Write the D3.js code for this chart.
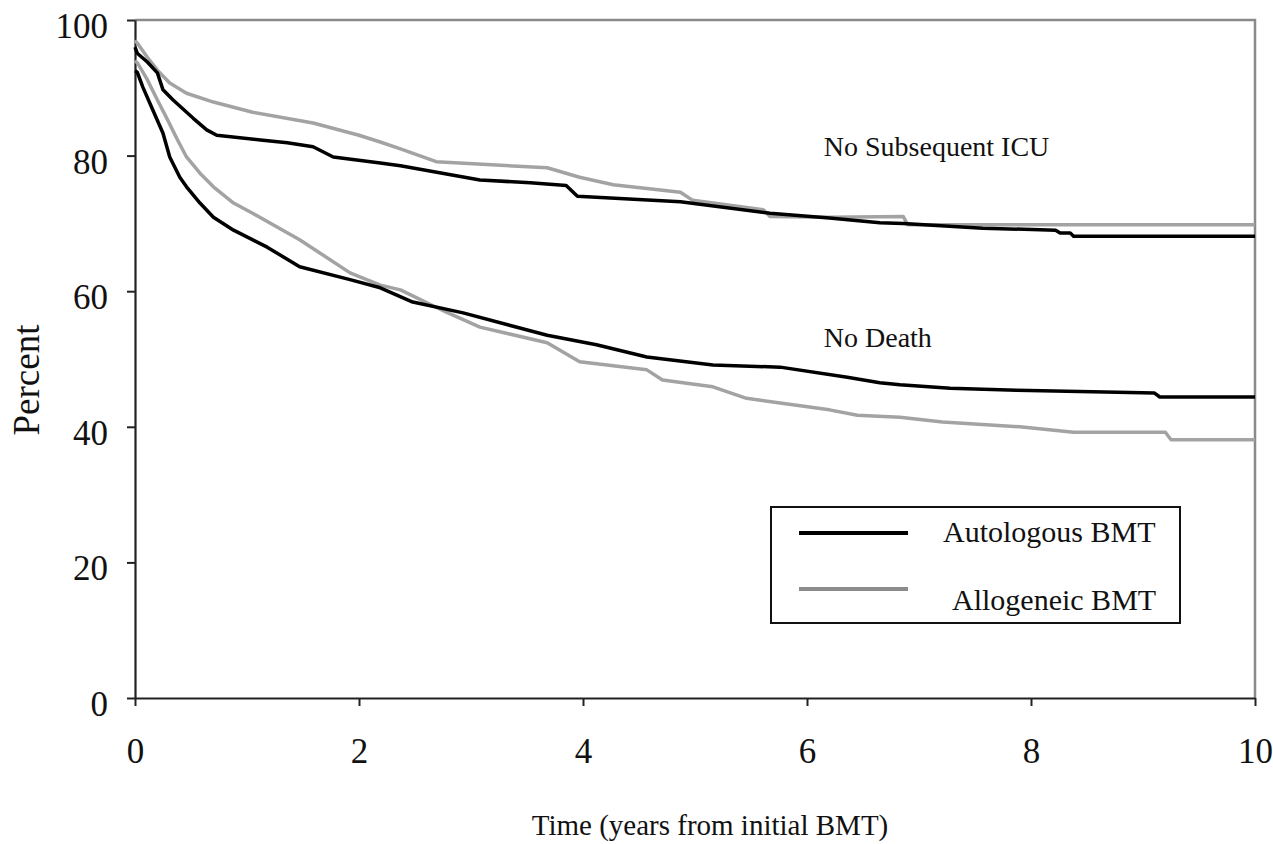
<!DOCTYPE html>
<html>
<head>
<meta charset="utf-8">
<script src="https://cdn.jsdelivr.net/npm/d3@7"></script>
<style>
  body { margin: 0; background: #fff; }
  text { font-family: "Liberation Serif", "Times New Roman", serif; fill: #111; }
</style>
</head>
<body>
<svg id="chart" width="1273" height="844"></svg>
<script>
// values: [years, percent]
const autoIcu = [[0,96],[0.02,95.1],[0.11,93.8],[0.2,92.2],[0.25,89.7],[0.34,88.2],[0.52,85.5],[0.64,83.8],[0.73,83.0],[1.12,82.3],[1.36,81.9],[1.59,81.3],[1.77,79.8],[2.19,78.9],[2.37,78.5],[3.08,76.4],[3.53,76.0],[3.85,75.6],[3.95,74.0],[4.87,73.2],[5.67,71.5],[6.2,70.8],[6.65,70.1],[6.86,70.0],[7.57,69.3],[8.22,69.0],[8.26,68.6],[8.35,68.6],[8.38,68.1],[10,68.1]];
const alloIcu = [[0,97],[0.02,96.6],[0.11,94.5],[0.2,92.6],[0.31,90.7],[0.46,89.2],[0.7,87.9],[1.05,86.4],[1.59,84.8],[2.0,83.0],[2.19,82.0],[2.37,81.0],[2.69,79.1],[3.68,78.2],[3.97,76.8],[4.27,75.7],[4.87,74.6],[4.98,73.4],[5.61,72.0],[5.67,71.0],[6.2,70.9],[6.86,71.0],[6.9,69.8],[10,69.8]];
const autoDeath = [[0,92.5],[0.02,92.3],[0.07,90.1],[0.16,86.7],[0.25,83.3],[0.31,79.8],[0.4,76.8],[0.46,75.4],[0.58,73.0],[0.7,70.9],[0.88,69.0],[1.18,66.5],[1.47,63.6],[1.92,61.7],[2.19,60.5],[2.48,58.4],[2.93,56.8],[3.68,53.5],[4.12,52.1],[4.57,50.3],[5.16,49.1],[5.76,48.8],[6.36,47.3],[6.65,46.5],[6.83,46.2],[7.28,45.7],[7.87,45.4],[8.77,45.1],[9.1,45.0],[9.15,44.4],[10,44.4]];
const alloDeath = [[0,94],[0.02,93.7],[0.11,91.2],[0.2,88.2],[0.29,85.3],[0.38,82.3],[0.46,79.8],[0.58,77.4],[0.7,75.4],[0.88,73.0],[1.05,71.5],[1.47,67.6],[1.92,62.7],[2.19,60.9],[2.37,60.2],[2.78,56.9],[3.08,54.7],[3.68,52.4],[3.97,49.6],[4.57,48.4],[4.71,46.9],[5.16,45.9],[5.46,44.2],[5.76,43.5],[6.2,42.5],[6.45,41.7],[6.83,41.4],[7.21,40.7],[7.9,40.0],[8.38,39.2],[9.2,39.2],[9.25,38.1],[10,38.1]];

const xTicks = [0, 2, 4, 6, 8, 10];
const yTicks = [0, 20, 40, 60, 80, 100];
const legendLabels = ["Autologous BMT", "Allogeneic BMT"];
const notes = [{ text: "No Subsequent ICU", t: 6.15, v: 80 }, { text: "No Death", t: 6.15, v: 51.7 }];

const svg = d3.select("#chart");
const m = { left: 135, top: 20, right: 1255, bottom: 698 };

const x = d3.scaleLinear().domain([0, 10]).range([m.left, m.right]);
const y = d3.scaleLinear().domain([0, 100]).range([m.bottom, m.top]);

// grey frame on top and right
svg.append("path")
  .attr("d", `M${x(0)},${y(100)}H${x(10)}V${y(0)}`)
  .attr("fill", "none")
  .attr("stroke", "#8a8a8a")
  .attr("stroke-width", 2.5);

const yAxis = svg.append("g")
  .attr("transform", `translate(${m.left},0)`)
  .call(d3.axisLeft(y).tickValues(yTicks).tickSize(8).tickSizeOuter(0).tickPadding(19));
const xAxis = svg.append("g")
  .attr("transform", `translate(0,${m.bottom})`)
  .call(d3.axisBottom(x).tickValues(xTicks).tickSize(8).tickSizeOuter(0).tickPadding(32));

[yAxis, xAxis].forEach(g => {
  g.select(".domain").attr("stroke", "#222").attr("stroke-width", 2.2);
  g.selectAll(".tick line").attr("stroke", "#222").attr("stroke-width", 2);
  g.selectAll(".tick text").style("font-family", "Liberation Serif, serif").style("font-size", "35px").attr("fill", "#111");
});
yAxis.selectAll(".tick text").attr("dy", "0.5em");

const line = d3.line().x(d => x(d[0])).y(d => y(d[1]));

const series = [
  { data: alloIcu, color: "#a3a3a3" },
  { data: alloDeath, color: "#a3a3a3" },
  { data: autoIcu, color: "#000" },
  { data: autoDeath, color: "#000" }
];
svg.selectAll("path.curve")
  .data(series)
  .enter()
  .append("path")
  .attr("class", "curve")
  .attr("d", d => line(d.data))
  .attr("fill", "none")
  .attr("stroke", d => d.color)
  .attr("stroke-width", 3.5)
  .attr("stroke-linejoin", "round");

svg.selectAll("text.note")
  .data(notes)
  .enter()
  .append("text")
  .attr("class", "note")
  .attr("x", d => x(d.t))
  .attr("y", d => y(d.v))
  .style("font-size", "28px")
  .text(d => d.text);

// axis titles
svg.append("text")
  .attr("transform", "translate(39,380) rotate(-90)")
  .attr("text-anchor", "middle")
  .style("font-size", "37px")
  .text("Percent");
svg.append("text")
  .attr("x", 710)
  .attr("y", 835)
  .attr("text-anchor", "middle")
  .style("font-size", "29px")
  .text("Time (years from initial BMT)");

// legend
const legend = svg.append("g").attr("transform", "translate(771,507)");
legend.append("rect")
  .attr("width", 409)
  .attr("height", 116)
  .attr("fill", "#fff")
  .attr("stroke", "#111")
  .attr("stroke-width", 2);
const items = legend.selectAll("g.item")
  .data(legendLabels)
  .enter()
  .append("g")
  .attr("class", "item")
  .attr("transform", (d, i) => `translate(0,${26 + i * 56})`);
items.append("line")
  .attr("x1", 28).attr("x2", 137)
  .attr("stroke", (d, i) => i === 0 ? "#000" : "#8c8c8c")
  .attr("stroke-width", 4);
items.append("text")
  .attr("x", (d, i) => i === 0 ? 172 : 181)
  .attr("y", (d, i) => i === 0 ? 9 : 21)
  .style("font-size", "30px")
  .text(d => d);
</script>
</body>
</html>
